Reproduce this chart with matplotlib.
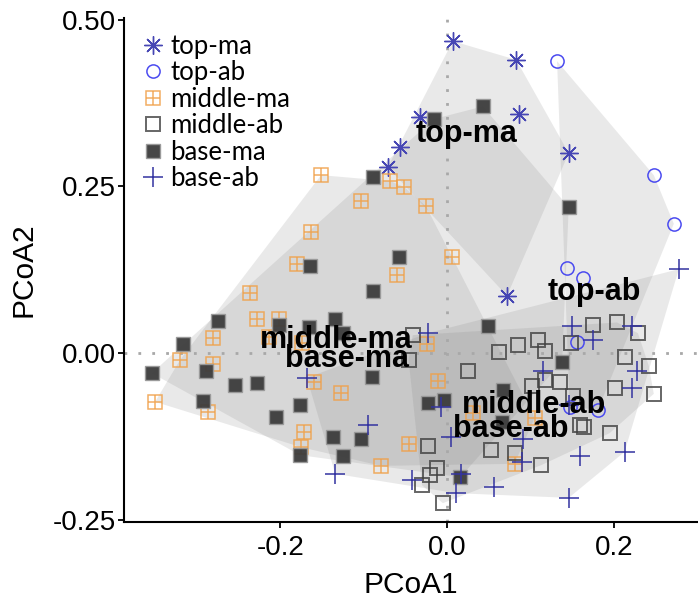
import numpy as np
import matplotlib
matplotlib.use("Agg")
import matplotlib.pyplot as plt
from matplotlib.lines import Line2D
from matplotlib.legend_handler import HandlerTuple

# PCoA scores
top_ma_x = [0.007, 0.083, 0.086, -0.032, -0.056, -0.071, 0.146, 0.072]
top_ma_y = [0.468, 0.440, 0.359, 0.354, 0.309, 0.279, 0.300, 0.086]

top_ab_x = [0.132, 0.248, 0.272, 0.144, 0.163, 0.156, 0.147, 0.181]
top_ab_y = [0.438, 0.267, 0.194, 0.127, 0.112, 0.016, -0.080, -0.085]

middle_ma_x = [-0.151, -0.068, -0.051, -0.103, -0.025, -0.163, -0.180, 0.006,
               -0.060, -0.236, -0.228, -0.202, -0.214, -0.174, -0.280, -0.320,
               -0.280, -0.350, -0.286, -0.160, -0.127, -0.172, -0.175, -0.046,
               -0.011, -0.024, -0.079, 0.031, 0.105, 0.081]
middle_ma_y = [0.267, 0.258, 0.249, 0.228, 0.220, 0.181, 0.133, 0.144,
               0.117, 0.090, 0.051, 0.051, 0.024, 0.015, 0.022, -0.010,
               -0.016, -0.073, -0.088, -0.043, -0.060, -0.118, -0.141, -0.136,
               -0.042, 0.013, -0.169, -0.090, -0.097, -0.166]

middle_ab_x = [-0.041, -0.046, 0.062, 0.085, 0.109, 0.117, 0.025, 0.102,
               0.117, 0.135, 0.175, 0.204, 0.229, 0.214, 0.242, 0.202,
               0.248, 0.151, 0.149, 0.164, 0.159, 0.195, -0.023, 0.053,
               0.081, 0.113, -0.012, -0.020, -0.030, -0.005]
middle_ab_y = [0.027, -0.010, 0.001, 0.012, 0.019, 0.003, -0.027, -0.049,
               -0.040, -0.043, 0.042, 0.046, 0.030, -0.006, -0.019, -0.052,
               -0.061, -0.064, 0.015, -0.111, -0.108, -0.120, -0.139, -0.145,
               -0.150, -0.168, -0.172, -0.183, -0.198, -0.225]

base_ma_x = [-0.089, -0.164, -0.057, -0.089, -0.134, 0.043, -0.016, 0.146,
             -0.275, -0.316, -0.201, -0.166, -0.125, -0.354, -0.289, -0.254,
             -0.228, -0.293, -0.176, -0.205, -0.090, -0.023, -0.004, -0.137,
             -0.103, -0.176, -0.125, 0.049, 0.138, 0.067, 0.066, 0.016]
base_ma_y = [0.264, 0.130, 0.144, 0.093, 0.051, 0.370, 0.351, 0.219,
             0.048, 0.013, 0.042, 0.039, 0.030, -0.030, -0.026, -0.048,
             -0.045, -0.072, -0.078, -0.096, -0.036, -0.075, -0.070, -0.126,
             -0.128, -0.153, -0.154, 0.040, -0.013, -0.055, -0.103, -0.186]

base_ab_x = [-0.023, 0.150, 0.175, 0.222, 0.115, 0.228, 0.222, -0.007,
             0.146, 0.091, 0.005, 0.090, 0.159, 0.213, -0.042, 0.017,
             0.011, 0.056, 0.146, -0.168, -0.095, -0.134, 0.278]
base_ab_y = [0.030, 0.040, 0.019, 0.040, -0.027, -0.027, -0.052, -0.081,
             -0.078, -0.129, -0.126, -0.163, -0.154, -0.148, -0.190, -0.181,
             -0.210, -0.201, -0.217, -0.037, -0.108, -0.181, 0.126]

groups = ["top-ma", "top-ab", "middle-ma", "middle-ab", "base-ma", "base-ab"]
xs = [top_ma_x, top_ab_x, middle_ma_x, middle_ab_x, base_ma_x, base_ab_x]
ys = [top_ma_y, top_ab_y, middle_ma_y, middle_ab_y, base_ma_y, base_ab_y]

# where the group names sit (group centroids)
centroid_x = [0.023, 0.177, -0.133, -0.120, 0.104, 0.077]
centroid_y = [0.328, 0.091, 0.019, -0.008, -0.078, -0.114]
label_order = ["top-ma", "top-ab", "middle-ma", "base-ma", "middle-ab", "base-ab"]


def convex_hull(px, py):
    pts = sorted(set(zip(px, py)))

    def cross(o, a, b):
        return (a[0] - o[0]) * (b[1] - o[1]) - (a[1] - o[1]) * (b[0] - o[0])

    lower, upper = [], []
    for p in pts:
        while len(lower) >= 2 and cross(lower[-2], lower[-1], p) <= 0:
            lower.pop()
        lower.append(p)
    for p in reversed(pts):
        while len(upper) >= 2 and cross(upper[-2], upper[-1], p) <= 0:
            upper.pop()
        upper.append(p)
    h = np.array(lower[:-1] + upper[:-1])
    return h[:, 0], h[:, 1]


styles = {
    "top-ma": [dict(marker=(8, 2, 0), ms=13, mew=1.0, color="#4646b4", mfc="none")],
    "top-ab": [dict(marker="o", ms=9.5, mew=1.1, color="#4b4bf0", mfc="none")],
    "middle-ma": [dict(marker="s", ms=9.5, mew=1.1, color="#f0a048", mfc="none", alpha=0.85),
                  dict(marker="+", ms=9.5, mew=1.1, color="#f0a048", alpha=0.85)],
    "middle-ab": [dict(marker="s", ms=9.5, mew=1.4, color="#404040", mfc="none", alpha=0.8)],
    "base-ma": [dict(marker="s", ms=9.5, mew=1.0, color="#9a9a9a", mfc="#3c3c3c", alpha=0.95)],
    "base-ab": [dict(marker="+", ms=14, mew=1.1, color="#3333a0")],
}

fig = plt.figure(figsize=(6.98, 6.04), dpi=100)
ax = fig.add_axes([0.178, 0.136, 0.822, 0.834])

for gx, gy in zip(xs, ys):
    hx, hy = convex_hull(gx, gy)
    ax.fill(hx, hy, color="#808080", alpha=0.17, lw=0, zorder=1)

ax.axhline(0, color="#a8a8a8", lw=2, ls=(0, (1, 4)), zorder=2)
ax.axvline(0, color="#a8a8a8", lw=2, ls=(0, (1, 4)), zorder=2)

handles = []
for g, gx, gy in zip(groups, xs, ys):
    parts = []
    for st in styles[g]:
        ax.plot(gx, gy, ls="none", zorder=3, **st)
        parts.append(Line2D([], [], ls="none", **st))
    handles.append(tuple(parts))

for g, cx, cy in zip(label_order, centroid_x, centroid_y):
    ax.text(cx, cy, g, ha="center", va="center", fontsize=22,
            fontweight="bold", family=["Liberation Sans", "DejaVu Sans"], zorder=4)

leg = ax.legend(handles, groups, handler_map={tuple: HandlerTuple(ndivide=1, pad=0)},
                loc="upper left", frameon=False,
                prop={"family": ["Lato", "DejaVu Sans"], "size": 18.5},
                handlelength=1.0, handletextpad=0.2, labelspacing=0.06,
                borderaxespad=0.15, borderpad=0.45)

ax.set_xlim(-0.387, 0.301)
ax.set_ylim(-0.253, 0.5025)
ax.set_xticks([-0.2, 0.0, 0.2])
ax.set_xticklabels(["-0.2", "0.0", "0.2"])
ax.set_yticks([-0.25, 0.0, 0.25, 0.5])
ax.set_yticklabels(["-0.25", "0.00", "0.25", "0.50"])

tick_font = ["Liberation Sans", "DejaVu Sans"]
for lab in ax.get_xticklabels() + ax.get_yticklabels():
    lab.set_family(tick_font)
    lab.set_fontsize(20)

ax.set_xlabel("PCoA1", family=tick_font, fontsize=21.5, labelpad=7)
ax.set_ylabel("PCoA2", family=tick_font, fontsize=21.5, labelpad=11)

ax.spines["top"].set_visible(False)
ax.spines["right"].set_visible(False)
ax.spines["left"].set_linewidth(1.5)
ax.spines["bottom"].set_linewidth(1.5)
ax.tick_params(length=4.5, width=1.3, color="black")
ax.tick_params(axis="y", pad=1.5)
ax.tick_params(axis="x", pad=5)

plt.savefig("out.png", dpi=100)
plt.close()
